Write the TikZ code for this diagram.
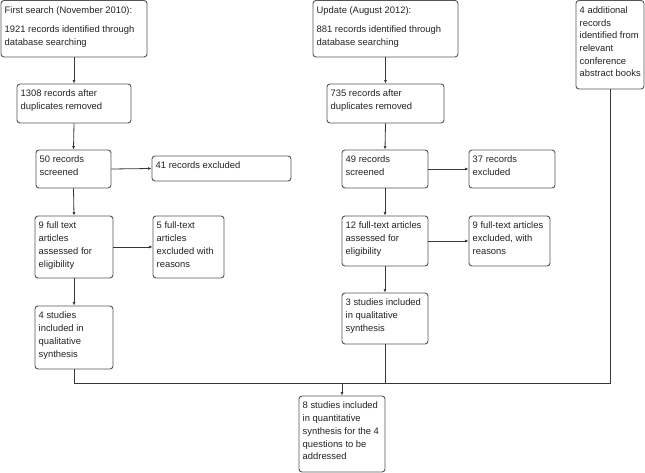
\documentclass[tikz,border=0pt]{standalone}
\usepackage{fontspec}
\setmainfont{Liberation Sans}
\usetikzlibrary{arrows.meta}
\definecolor{boxline}{RGB}{85,85,85}
\definecolor{connline}{RGB}{55,55,55}
\definecolor{txt}{RGB}{35,35,35}
\tikzset{
  flowframe/.style={draw=boxline, line width=0.9pt, rounded corners=3pt, fill=white, inner sep=0pt},
  flowtext/.style={anchor=north west, inner sep=0pt, align=left, text=txt,
     font=\fontsize{9.4pt}{12.7pt}\selectfont},
  conn/.style={draw=connline, line width=0.8pt},
  arr/.style={conn, -{Latex[length=3.5pt,width=3pt]}}
}
\newcommand\flowbox[6]{%
  \node[flowframe, minimum width={(#4)-(#2)}, minimum height={(#5)-(#3)}]
    (#1) at ({((#2)+(#4))/2},{((#3)+(#5))/2}) {};
  \node[flowtext] (#1-t) at ({(#2)+3.5},{(#3)+5.7}) {\rule{0pt}{7pt}#6};
}
\begin{document}
\begin{tikzpicture}[x=1pt,y=-1pt]
\useasboundingbox (0,0) rectangle (645,473);
% left column
\flowbox{A}{1}{0.5}{147}{57}{First search (November 2010):\\[6.3pt]1921 records identified through\\database searching}
\flowbox{B}{17}{84}{131}{123}{1308 records after\\duplicates removed}
\flowbox{C}{36}{150}{111}{188}{50 records\\screened}
\flowbox{D}{152}{156}{291}{181}{41 records excluded}
\flowbox{E}{35}{216}{113}{278}{9 full text\\articles\\assessed for\\eligibility}
\flowbox{F}{153}{216}{224}{278}{5 full-text\\articles\\excluded with\\reasons}
\flowbox{G}{35}{306}{113}{369}{4 studies\\included in\\qualitative\\synthesis}
% right column
\flowbox{K}{313}{0.5}{458}{57}{Update (August 2012):\\[6.3pt]881 records identified through\\database searching}
\flowbox{L}{327}{84}{444}{123}{735 records after\\duplicates removed}
\flowbox{M}{342}{150}{428}{188}{49 records\\screened}
\flowbox{N}{469}{150}{555}{188}{37 records\\excluded}
\flowbox{O}{342}{216}{428}{266}{12 full-text articles\\assessed for\\eligibility}
\flowbox{P}{469}{216}{550}{266}{9 full-text articles\\excluded, with\\reasons}
\flowbox{H}{342}{293}{428}{344}{3 studies included\\in qualitative\\synthesis}
% extra records
\flowbox{J}{576}{0.5}{644}{89}{4 additional\\records\\identified from\\relevant\\conference\\abstract books}
% final
\flowbox{I}{299}{396}{385}{472}{8 studies included\\in quantitative\\synthesis for the 4\\questions to be\\addressed}
% connectors
\draw[arr] (A.south) -- (B.north);
\draw[arr] (B.south) -- (C.north);
\draw[arr] (C.east) -- (D.west);
\draw[arr] (C.south) -- (E.north);
\draw[arr] (E.east) -- (F.west);
\draw[arr] (E.south) -- (G.north);
\draw[arr] (K.south) -- (L.north);
\draw[arr] (L.south) -- (M.north);
\draw[arr] (M.east) -- (N.west);
\draw[arr] (M.south) -- (O.north);
\draw[arr] (O.east) -- (P.west);
\draw[arr] (O.south) -- (H.north);
\coordinate (m) at (I.north |- 0,383);
\draw[conn] (G.south) |- (m);
\draw[conn] (J.south) |- (m);
\draw[conn] (H.south) -- (H.south |- m);
\draw[arr] (m) -- (I.north);
\end{tikzpicture}
\end{document}
